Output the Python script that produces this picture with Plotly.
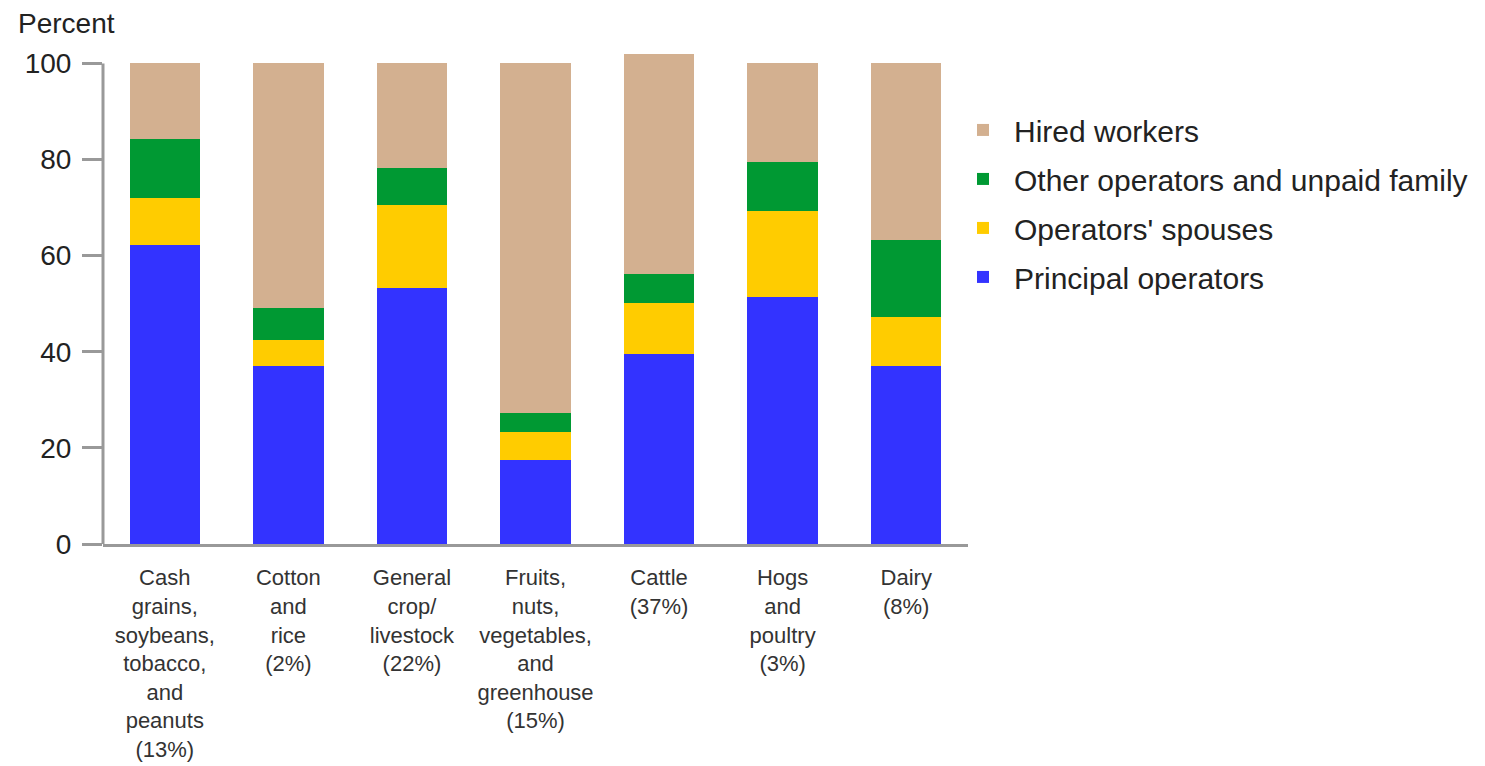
import plotly.graph_objects as go

categories = [
    "Cash<br>grains,<br>soybeans,<br>tobacco,<br>and<br>peanuts<br>(13%)",
    "Cotton<br>and<br>rice<br>(2%)",
    "General<br>crop/<br>livestock<br>(22%)",
    "Fruits,<br>nuts,<br>vegetables,<br>and<br>greenhouse<br>(15%)",
    "Cattle<br>(37%)",
    "Hogs<br>and<br>poultry<br>(3%)",
    "Dairy<br>(8%)",
]
principal = [62.2, 37.0, 53.2, 17.5, 39.5, 51.4, 37.0]
spouses = [9.9, 5.4, 17.3, 5.8, 10.6, 17.8, 10.2]
other = [12.1, 6.7, 7.7, 3.9, 6.0, 10.2, 16.0]
hired = [15.8, 50.9, 21.8, 72.8, 45.8, 20.6, 36.8]

y_ticks = [0, 20, 40, 60, 80, 100]

series = [
    ("Principal operators", principal, "#3333FF", 4),
    ("Operators' spouses", spouses, "#FFCC00", 3),
    ("Other operators and unpaid family", other, "#009933", 2),
    ("Hired workers", hired, "#D3B090", 1),
]

FONT = "Liberation Sans, Arial, sans-serif"

fig = go.Figure()
for i, (name, vals, col, rank) in enumerate(series):
    fig.add_trace(go.Bar(
        x=categories, y=vals, name=name,
        marker=dict(color=col, line=dict(width=0)),
        width=0.57, legendgroup=f"g{i}", legendrank=rank,
    ))

fig.add_shape(type="line", xref="paper", x0=0, x1=0, yref="y", y0=0, y1=y_ticks[-1],
              line=dict(color="#999999", width=3), layer="above")

fig.update_layout(
    barmode="stack",
    width=1477, height=758,
    margin=dict(l=95, r=515, t=41, b=222),
    paper_bgcolor="white", plot_bgcolor="white",
    font=dict(family=FONT, color="#222222"),
    showlegend=True,
    legend=dict(
        x=0.9815, xanchor="left", y=0.889, yanchor="top",
        traceorder="grouped", tracegroupgap=7, itemwidth=52,
        font=dict(size=30, family=FONT, color="#222222"),
        bgcolor="rgba(0,0,0,0)",
    ),
    xaxis=dict(
        range=[-0.5, 6.5], automargin=False,
        showline=True, linecolor="#999999", linewidth=3,
        ticks="", showgrid=False, ticklabelstandoff=12,
        tickfont=dict(size=22, family=FONT, color="#333333"),
    ),
    yaxis=dict(
        range=[0, 103], automargin=False,
        tickvals=y_ticks, ticktext=[str(v) for v in y_ticks],
        showline=False,
        ticks="outside", ticklen=20, tickwidth=3, tickcolor="#999999",
        showgrid=False, zeroline=False, ticklabelstandoff=5,
        tickfont=dict(size=28, family=FONT, color="#222222"),
    ),
    annotations=[dict(
        text="Percent", xref="paper", yref="paper",
        x=-0.101, y=1.0, xanchor="left", yanchor="bottom",
        yshift=8, showarrow=False,
        font=dict(size=28, family=FONT, color="#222222"),
    )],
)

fig.write_html("out.html")
